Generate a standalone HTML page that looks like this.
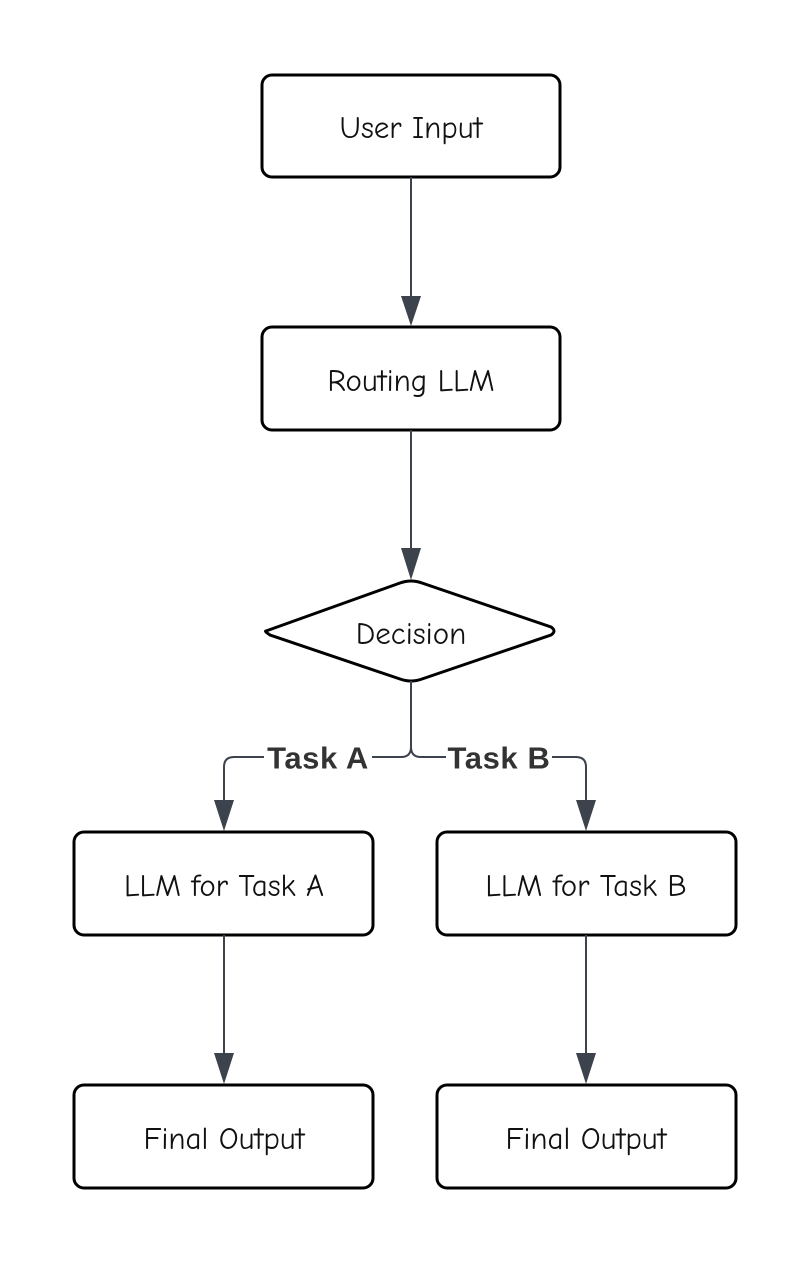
<!DOCTYPE html>
<html><head><meta charset="utf-8"><style>
html,body{margin:0;padding:0;background:#fff;}
svg{display:block;}
.n{font-family:"Comic Neue","Liberation Sans",sans-serif;font-size:31px;fill:#111;text-anchor:middle;dominant-baseline:central;}
.l{font-family:"Liberation Sans",sans-serif;font-weight:bold;font-size:31px;letter-spacing:0.6px;fill:#333;text-anchor:middle;dominant-baseline:central;}
</style></head><body>
<svg width="812" height="1262" viewBox="0 0 812 1262">
<g fill="#fff" stroke="#000" stroke-width="3">
<rect x="262" y="75" width="298" height="102" rx="10"/>
<rect x="262" y="327" width="298" height="103" rx="10"/>
<path d="M266 631 L400 583 Q411 579 422 583 L551 627 Q557 631 551 635 L422 679 Q411 683 400 679 L270 635 Q264 631 266 631Z"/>
<rect x="74" y="832" width="299" height="103" rx="10"/>
<rect x="437" y="832" width="299" height="103" rx="10"/>
<rect x="74" y="1085" width="299" height="103" rx="10"/>
<rect x="437" y="1085" width="299" height="103" rx="10"/>
</g>
<g stroke="#3d434c" stroke-width="2" fill="none">
<line x1="411" y1="177" x2="411" y2="298"/>
<line x1="411" y1="430" x2="411" y2="550"/>
<path d="M411 681 V747 Q411 757 401 757 H234 Q224 757 224 767 V802"/>
<path d="M411 747 Q411 757 421 757 H576 Q586 757 586 767 V802"/>
<line x1="224" y1="935" x2="224" y2="1055"/>
<line x1="586" y1="935" x2="586" y2="1055"/>
</g>
<g fill="#3d434c">
<polygon points="401,296 421,296 411,326"/>
<polygon points="401,548 421,548 411,580"/>
<polygon points="214,800 234,800 224,831"/>
<polygon points="576,800 596,800 586,831"/>
<polygon points="214,1053 234,1053 224,1084"/>
<polygon points="576,1053 596,1053 586,1084"/>
</g>
<rect x="264" y="740" width="108" height="34" fill="#fff"/>
<rect x="446" y="740" width="106" height="34" fill="#fff"/>
<text class="l" x="318" y="758">Task A</text>
<text class="l" x="499" y="758">Task B</text>
<text class="n" x="411" y="128">User Input</text>
<text class="n" x="411" y="381">Routing LLM</text>
<text class="n" x="411" y="634">Decision</text>
<text class="n" x="224" y="886">LLM for Task A</text>
<text class="n" x="586" y="886">LLM for Task B</text>
<text class="n" x="224" y="1139">Final Output</text>
<text class="n" x="586" y="1139">Final Output</text>
</svg>
</body></html>
